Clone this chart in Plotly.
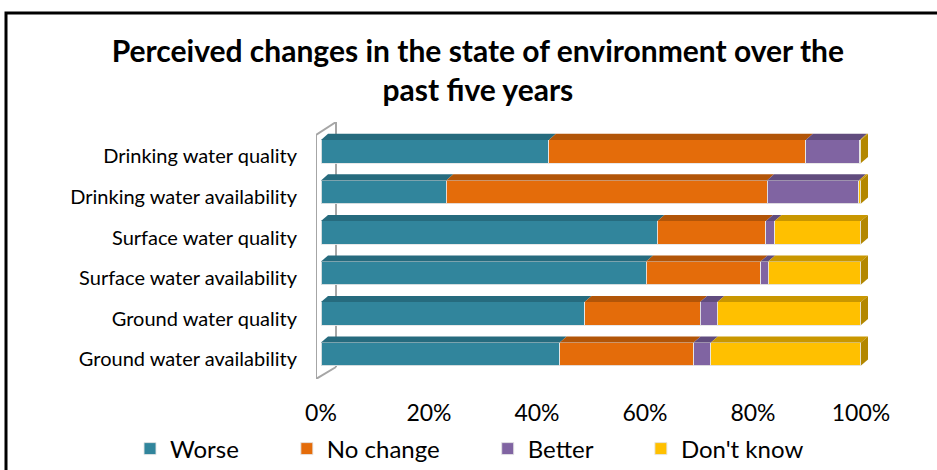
import plotly.graph_objects as go

# ---------------- data ----------------
categories = [
    "Drinking water quality",
    "Drinking water availability",
    "Surface water quality",
    "Surface water availability",
    "Ground water quality",
    "Ground water availability",
]
series_names = ["Worse", "No change", "Better", "Don't know"]
worse = [42.2, 23.2, 62.3, 60.2, 48.8, 44.2]
no_change = [47.6, 59.4, 20.1, 21.2, 21.4, 24.8]
better = [10.0, 17.0, 1.6, 1.4, 3.2, 3.2]
dont_know = [0.2, 0.4, 16.0, 17.2, 26.6, 27.8]
x_tick_vals = [0, 20, 40, 60, 80, 100]
x_tick_text = ["0%", "20%", "40%", "60%", "80%", "100%"]
title_text = "Perceived changes in the state of environment over the<br>past five years"

# ---------------- style ----------------
FONT = "Lato"
front_colors = ["#31859C", "#E46C0A", "#8064A2", "#FFC000"]
top_colors = ["#266B7E", "#B25508", "#614C7E", "#C99700"]
side_colors = ["#215E6E", "#9C4A07", "#54426D", "#B38700"]
BAR_W = 0.57
DEPTH_X = 1.3    # depth offset in x data units
DEPTH_Y = 0.15   # depth offset in y data units
W, H = 937, 470
PL, PR, PT, PB = 316, 880, 122, 379   # plot area in pixels
X_RANGE = [-0.926, 103.52]
Y_RANGE = [-0.617, 5.728]
LEGEND_PAD_COUNTS = [7, 7, 7, 0]   # trailing spaces after each legend entry

n = len(categories)
ypos = [n - 1 - i for i in range(n)]
series = [worse, no_change, better, dont_know]

fig = go.Figure()
for k, (name, vals, col) in enumerate(zip(series_names, series, front_colors)):
    label = name + "\u00a0" * LEGEND_PAD_COUNTS[k]
    fig.add_trace(go.Bar(
        y=ypos, x=vals, name=label, orientation="h", width=BAR_W,
        marker=dict(color=col, line=dict(color="rgba(230,230,230,0.9)", width=1)),
        hovertemplate="%{x:.1f}%<extra>" + name + "</extra>",
    ))

shapes = []
# 3D top faces and right side face, computed from the data
for i, yc in enumerate(ypos):
    ytop = yc + BAR_W / 2
    ybot = yc - BAR_W / 2
    start = 0.0
    for s, vals in enumerate(series):
        v = vals[i]
        x0, x1 = start, start + v
        if v > 0:
            shapes.append(dict(
                type="path", xref="x", yref="y", layer="above",
                path=f"M {x0},{ytop} L {x1},{ytop} L {x1 + DEPTH_X},{ytop + DEPTH_Y} L {x0 + DEPTH_X},{ytop + DEPTH_Y} Z",
                fillcolor=top_colors[s], line=dict(width=0),
            ))
        start = x1
    last = max(s for s in range(len(series)) if series[s][i] > 0)
    shapes.append(dict(
        type="path", xref="x", yref="y", layer="above",
        path=f"M {start},{ybot} L {start},{ytop} L {start + DEPTH_X},{ytop + DEPTH_Y} L {start + DEPTH_X},{ybot + DEPTH_Y} Z",
        fillcolor=side_colors[last], line=dict(width=0),
    ))

# wall outline (3D back wall)
wall_front_x = X_RANGE[0]
wall_back_x = 2.78
wf_top, wf_bot = 5.407, Y_RANGE[0]
wb_top, wb_bot = Y_RANGE[1], -0.321
wall_col = "#A6A6A6"
shapes += [
    dict(type="line", xref="x", yref="y", x0=wall_front_x, x1=wall_front_x, y0=wf_bot, y1=wf_top,
         line=dict(color=wall_col, width=2), layer="below"),
    dict(type="line", xref="x", yref="y", x0=wall_front_x, x1=wall_back_x, y0=wf_top, y1=wb_top,
         line=dict(color=wall_col, width=2), layer="below"),
    dict(type="line", xref="x", yref="y", x0=wall_front_x, x1=wall_back_x, y0=wf_bot, y1=wb_bot,
         line=dict(color=wall_col, width=2), layer="below"),
    dict(type="line", xref="x", yref="y", x0=wall_back_x, x1=wall_back_x, y0=wb_bot, y1=wb_top,
         line=dict(color=wall_col, width=2), layer="below"),
]

# outer black frame (chart is cropped on the right and bottom)
pw, ph = PR - PL, PB - PT
def px_to_paper_x(px):
    return (px - PL) / pw
def px_to_paper_y(py):
    return (PB - py) / ph
shapes.append(dict(
    type="rect", xref="paper", yref="paper",
    x0=px_to_paper_x(6), x1=px_to_paper_x(960),
    y0=px_to_paper_y(500), y1=px_to_paper_y(13),
    line=dict(color="black", width=3), fillcolor="rgba(0,0,0,0)", layer="above",
))

fig.update_layout(
    width=W, height=H, autosize=False,
    margin=dict(l=PL, r=W - PR, t=PT, b=H - PB, pad=0, autoexpand=False),
    barmode="stack",
    plot_bgcolor="white", paper_bgcolor="white",
    font=dict(family=FONT, color="black"),
    title=dict(text=title_text, font=dict(family=FONT, size=30, color="black", weight="bold"),
               x=0.51, xref="container", xanchor="center",
               y=1 - 62 / H, yref="container", yanchor="top", automargin=False),
    xaxis=dict(range=X_RANGE, tickvals=x_tick_vals, ticktext=x_tick_text,
               showgrid=False, zeroline=False, showline=False, ticks="", automargin=False,
               tickfont=dict(family=FONT, size=23, color="black"), ticklabelstandoff=18,
               fixedrange=True),
    yaxis=dict(range=Y_RANGE, tickvals=ypos, ticktext=categories,
               showgrid=False, zeroline=False, showline=False, ticks="", automargin=False,
               tickfont=dict(family=FONT, size=20, color="black"), ticklabelstandoff=18,
               ticklabelshift=5, fixedrange=True),
    legend=dict(orientation="h", xref="paper", x=px_to_paper_x(130), xanchor="left",
                yref="paper", y=px_to_paper_y(449), yanchor="middle",
                bgcolor="rgba(0,0,0,0)",
                font=dict(family=FONT, size=24, color="black"),
                traceorder="normal", itemwidth=30),
    shapes=shapes,
    showlegend=True,
)

fig.write_html("out.html", config={"displayModeBar": False},
               post_script="document.body.style.margin='0';")
